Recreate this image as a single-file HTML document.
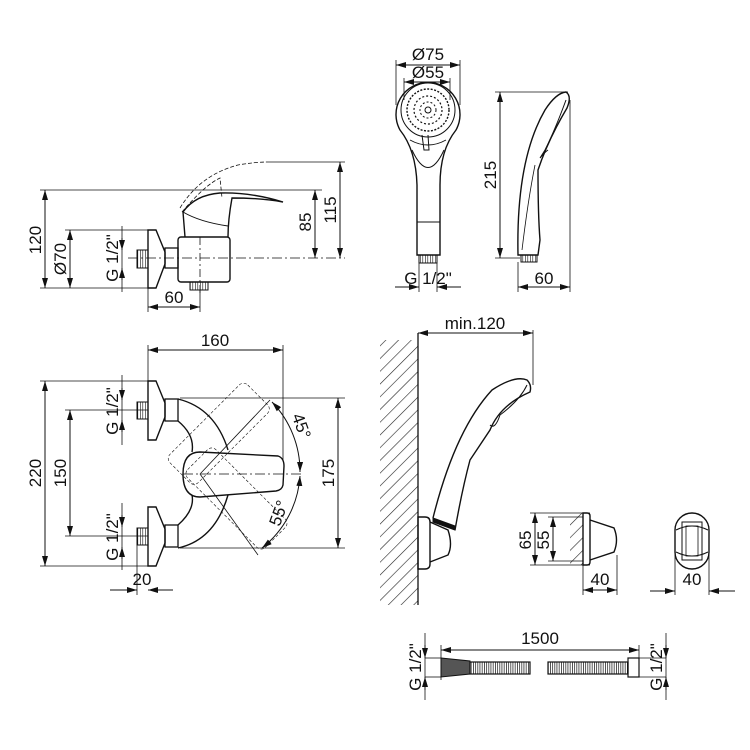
<!DOCTYPE html>
<html><head><style>html,body{margin:0;padding:0;background:#fff}svg{display:block}text{font-family:"Liberation Sans",sans-serif;font-size:17px;fill:#111}</style></head>
<body>
<svg width="750" height="750" viewBox="0 0 750 750" xmlns="http://www.w3.org/2000/svg">
<defs>
<marker id="a" viewBox="0 0 10 6" refX="10" refY="3" markerWidth="10" markerHeight="6" orient="auto-start-reverse"><path d="M0,0L10,3L0,6z" fill="#111"/></marker>
<pattern id="h" width="9" height="9" patternUnits="userSpaceOnUse" patternTransform="rotate(45)"><line x1="0" y1="0" x2="0" y2="9" stroke="#222" stroke-width="1.2"/></pattern>
<pattern id="thr" width="2.5" height="4" patternUnits="userSpaceOnUse"><line x1="0" y1="0" x2="0" y2="4" stroke="#111" stroke-width="1.2"/></pattern>
<pattern id="hose" width="2.2" height="4" patternUnits="userSpaceOnUse"><line x1="0" y1="0" x2="0" y2="4" stroke="#111" stroke-width="1.4"/></pattern>
</defs>
<g stroke="#111" fill="none" stroke-width="1">
<!-- ===== top-left side view ===== -->
<line x1="40" y1="190" x2="322" y2="190" stroke-width="0.8"/>
<line x1="40" y1="288" x2="150" y2="288" stroke-width="0.8"/>
<line x1="268" y1="162" x2="345" y2="162" stroke-width="0.8"/>
<line x1="65" y1="230" x2="150" y2="230" stroke-width="0.8"/>
<line x1="45" y1="190" x2="45" y2="288" marker-start="url(#a)" marker-end="url(#a)"/>
<line x1="70" y1="230" x2="70" y2="288" marker-start="url(#a)" marker-end="url(#a)"/>
<line x1="122" y1="226" x2="122" y2="292" stroke-width="0.8"/>
<line x1="122" y1="238" x2="122" y2="250" marker-end="url(#a)"/>
<line x1="122" y1="280" x2="122" y2="268" marker-end="url(#a)"/>
<line x1="315" y1="190" x2="315" y2="258" marker-start="url(#a)" marker-end="url(#a)"/>
<line x1="340" y1="162" x2="340" y2="258" marker-start="url(#a)" marker-end="url(#a)"/>
<line x1="148" y1="307" x2="200" y2="307" marker-start="url(#a)" marker-end="url(#a)"/>
<line x1="148" y1="288" x2="148" y2="312" stroke-width="0.8"/>
<line x1="200" y1="290" x2="200" y2="312" stroke-width="0.8"/>
<path d="M148,230h8l9,22v12l-9,24h-8z" stroke-width="1.4"/>
<rect x="137" y="250" width="11" height="18" fill="url(#thr)"/>
<rect x="165" y="248" width="13" height="20" stroke-width="1.3"/>
<rect x="178" y="237" width="52" height="45" rx="3" stroke-width="1.4"/>
<rect x="190" y="282" width="18" height="8" fill="url(#thr)"/>
<line x1="128" y1="258" x2="345" y2="258" stroke-dasharray="10,3,2,3" stroke-width="0.8"/>
<line x1="200" y1="237" x2="200" y2="295" stroke-dasharray="8,3,2,3" stroke-width="0.8"/>
<path d="M185,237 L183,212 Q195,195 220,193 Q250,192 283,202 Q262,198 232,198 Q228,220 228,237" stroke-width="1.4"/>
<path d="M183,212 Q200,222 228,226" stroke-width="1"/>
<path d="M180,208 Q200,175 238,165 Q255,162 268,162" stroke-dasharray="4,2" stroke-width="0.8"/>
<path d="M182,212 Q205,185 220,178 L222,198" stroke-dasharray="4,2" stroke-width="0.8"/>
<!-- ===== bottom-left top view ===== -->
<line x1="148" y1="345" x2="148" y2="382" stroke-width="0.8"/>
<line x1="283" y1="345" x2="283" y2="460" stroke-width="0.8"/>
<line x1="148" y1="350" x2="283" y2="350" marker-start="url(#a)" marker-end="url(#a)"/>
<line x1="40" y1="381" x2="155" y2="381" stroke-width="0.8"/>
<line x1="40" y1="566" x2="155" y2="566" stroke-width="0.8"/>
<line x1="45" y1="381" x2="45" y2="566" marker-start="url(#a)" marker-end="url(#a)"/>
<line x1="65" y1="410" x2="148" y2="410" stroke-width="0.8"/>
<line x1="65" y1="536" x2="148" y2="536" stroke-width="0.8"/>
<line x1="70" y1="410" x2="70" y2="536" marker-start="url(#a)" marker-end="url(#a)"/>
<line x1="122" y1="375" x2="122" y2="445" stroke-width="0.8"/>
<line x1="122" y1="388" x2="122" y2="400" marker-end="url(#a)"/>
<line x1="122" y1="432" x2="122" y2="420" marker-end="url(#a)"/>
<line x1="122" y1="503" x2="122" y2="570" stroke-width="0.8"/>
<line x1="122" y1="515" x2="122" y2="527" marker-end="url(#a)"/>
<line x1="122" y1="559" x2="122" y2="547" marker-end="url(#a)"/>
<path d="M148,381h8l9,22v14l-9,23h-8z" stroke-width="1.4"/>
<path d="M148,507h8l9,22v14l-9,23h-8z" stroke-width="1.4"/>
<rect x="137" y="402" width="11" height="17" fill="url(#thr)"/>
<rect x="137" y="528" width="11" height="17" fill="url(#thr)"/>
<rect x="165" y="399" width="13" height="22" stroke-width="1.3"/>
<rect x="165" y="525" width="13" height="22" stroke-width="1.3"/>
<path d="M178,399 Q215,408 228,450 M178,548 Q215,540 228,495 M178,421 Q195,435 192,452 M178,525 Q195,510 192,495" stroke-width="1.4"/>
<path d="M200,452 L278,456 Q284,458 284,466 L283,485 Q282,490 276,491 L200,497 Q183,497 183,474 Q183,452 200,452z" stroke-width="1.4"/>
<line x1="183" y1="474" x2="302" y2="474" stroke-dasharray="10,3,2,3" stroke-width="0.8"/>
<line x1="180" y1="398" x2="345" y2="398" stroke-width="0.8"/>
<line x1="180" y1="548" x2="345" y2="548" stroke-width="0.8"/>
<line x1="338" y1="398" x2="338" y2="548" marker-start="url(#a)" marker-end="url(#a)"/>
<g stroke-dasharray="3,2" stroke-width="0.6">
<rect x="190" y="400" width="40" height="110" rx="6" transform="rotate(45 240 455)"/>
<rect x="215" y="440" width="40" height="110" rx="6" transform="rotate(-45 240 495)"/>
</g>
<line x1="200" y1="474" x2="270" y2="400" stroke-width="0.8"/>
<line x1="200" y1="474" x2="258" y2="555" stroke-width="0.8"/>
<path d="M272,402 A100,100 0 0 1 300,472" marker-start="url(#a)" marker-end="url(#a)"/>
<path d="M300,476 A100,100 0 0 1 262,548" marker-start="url(#a)" marker-end="url(#a)"/>
<line x1="110" y1="590" x2="137" y2="590" marker-end="url(#a)"/>
<line x1="173" y1="590" x2="148" y2="590" marker-end="url(#a)"/>
<line x1="137" y1="545" x2="137" y2="595" stroke-width="0.8"/>
<!-- ===== handshower front ===== -->
<line x1="396" y1="65" x2="460" y2="65" marker-start="url(#a)" marker-end="url(#a)"/>
<line x1="404" y1="82" x2="450" y2="82" marker-start="url(#a)" marker-end="url(#a)"/>
<line x1="396" y1="60" x2="396" y2="105" stroke-width="0.8"/>
<line x1="460" y1="60" x2="460" y2="105" stroke-width="0.8"/>
<line x1="404" y1="78" x2="404" y2="100" stroke-width="0.8"/>
<line x1="450" y1="78" x2="450" y2="100" stroke-width="0.8"/>
<path d="M400,130 A32,32 0 1 1 456,130 Q440,150 440,185 L440,255 L417,255 L417,185 Q416,150 400,130z" stroke-width="1.4"/>
<circle cx="428" cy="110" r="27"/>
<circle cx="428" cy="110" r="21" stroke-dasharray="2,1.5" stroke-width="1.4"/>
<circle cx="428" cy="110" r="14" stroke-dasharray="2,2" stroke-width="1.2"/>
<circle cx="428" cy="110" r="8" stroke-dasharray="2,2" stroke-width="1"/>
<circle cx="428" cy="110" r="3"/>
<path d="M410,140 Q428,150 446,140 M422,135 L424,150 L429,150 L428,135" stroke-width="1"/>
<path d="M412,150 Q428,185 444,150" stroke-width="1"/>
<line x1="417" y1="222" x2="440" y2="222"/>
<rect x="419" y="255" width="18" height="8" fill="url(#thr)"/>
<line x1="419" y1="262" x2="419" y2="292" stroke-width="0.8"/>
<line x1="437" y1="262" x2="437" y2="292" stroke-width="0.8"/>
<line x1="395" y1="287" x2="419" y2="287" marker-end="url(#a)"/>
<line x1="461" y1="287" x2="437" y2="287" marker-end="url(#a)"/>
<!-- side -->
<path d="M518,255 Q516,160 545,110 Q556,93 566,92 Q572,96 567,108 Q548,140 538,170 Q538,215 540,240 L538,255z" stroke-width="1.4"/>
<path d="M566,100 Q555,130 545,150 L540,158 Q545,152 548,150" stroke-width="1"/>
<path d="M522,250 Q528,200 535,165" stroke-width="0.8"/>
<rect x="521" y="255" width="16" height="7" fill="url(#thr)"/>
<line x1="495" y1="92" x2="568" y2="92" stroke-width="0.8"/>
<line x1="495" y1="258" x2="520" y2="258" stroke-width="0.8"/>
<line x1="500" y1="92" x2="500" y2="258" marker-start="url(#a)" marker-end="url(#a)"/>
<line x1="518" y1="262" x2="518" y2="292" stroke-width="0.8"/>
<line x1="570" y1="100" x2="570" y2="292" stroke-width="0.8"/>
<line x1="518" y1="287" x2="570" y2="287" marker-start="url(#a)" marker-end="url(#a)"/>
<!-- ===== wall mount ===== -->
<rect x="380" y="340" width="38" height="265" fill="url(#h)" stroke="none"/>
<line x1="418" y1="333" x2="418" y2="605" stroke-width="1.3"/>
<line x1="533" y1="330" x2="533" y2="385" stroke-width="0.8"/>
<line x1="418" y1="333" x2="533" y2="333" marker-start="url(#a)" marker-end="url(#a)"/>
<path d="M418,517 h7 q5,0 5,5 v42 q0,5 -5,5 h-7z" stroke-width="1.4"/>
<path d="M430,522 L448,530 Q453,545 448,555 L430,562" stroke-width="1.4"/>
<path d="M433,518 Q455,430 492,390 Q515,375 527,380 Q532,385 530,392 Q500,405 490,430 L470,460 Q462,490 455,530" stroke-width="1.4"/>
<path d="M527,385 Q520,400 500,415 Q495,430 490,425" stroke-width="1"/>
<path d="M433,518 L455,526 L455,530 L433,522z" fill="#111"/>
<!-- small bracket -->
<rect x="570" y="513" width="13" height="52" fill="url(#h)" stroke="none"/>
<line x1="530" y1="513" x2="590" y2="513" stroke-width="0.8"/>
<line x1="530" y1="565" x2="590" y2="565" stroke-width="0.8"/>
<line x1="548" y1="517" x2="583" y2="517" stroke-width="0.8"/>
<line x1="548" y1="561" x2="583" y2="561" stroke-width="0.8"/>
<line x1="535" y1="513" x2="535" y2="565" marker-start="url(#a)" marker-end="url(#a)"/>
<line x1="553" y1="517" x2="553" y2="561" marker-start="url(#a)" marker-end="url(#a)"/>
<path d="M583,513 h4 q3,0 3,3 v46 q0,3 -3,3 h-4z" stroke-width="1.4"/>
<path d="M590,520 L614,528 Q619,540 614,552 L590,560" stroke-width="1.4"/>
<line x1="583" y1="565" x2="583" y2="595" stroke-width="0.8"/>
<line x1="617" y1="555" x2="617" y2="595" stroke-width="0.8"/>
<line x1="583" y1="590" x2="617" y2="590" marker-start="url(#a)" marker-end="url(#a)"/>
<rect x="675" y="513" width="34" height="56" rx="17" stroke-width="1.4"/>
<path d="M676,530 Q692,522 708,530 M676,552 Q692,560 708,552" stroke-width="1"/>
<rect x="682" y="522" width="20" height="38" stroke-width="1"/>
<rect x="686" y="526" width="12" height="30" stroke-width="0.8"/>
<line x1="675" y1="545" x2="675" y2="595" stroke-width="0.8"/>
<line x1="709" y1="545" x2="709" y2="595" stroke-width="0.8"/>
<line x1="650" y1="591" x2="675" y2="591" marker-end="url(#a)"/>
<line x1="735" y1="591" x2="709" y2="591" marker-end="url(#a)"/>
<!-- ===== hose ===== -->
<line x1="441" y1="645" x2="441" y2="680" stroke-width="0.8"/>
<line x1="639" y1="645" x2="639" y2="662" stroke-width="0.8"/>
<line x1="441" y1="650" x2="639" y2="650" marker-start="url(#a)" marker-end="url(#a)"/>
<line x1="425" y1="633" x2="425" y2="700" stroke-width="0.8"/>
<line x1="425" y1="645" x2="425" y2="658" marker-end="url(#a)"/>
<line x1="425" y1="690" x2="425" y2="677" marker-end="url(#a)"/>
<line x1="666" y1="633" x2="666" y2="700" stroke-width="0.8"/>
<line x1="666" y1="645" x2="666" y2="658" marker-end="url(#a)"/>
<line x1="666" y1="690" x2="666" y2="677" marker-end="url(#a)"/>
<line x1="425" y1="658" x2="441" y2="658" stroke-width="0.8"/>
<line x1="425" y1="677" x2="441" y2="677" stroke-width="0.8"/>
<line x1="639" y1="658" x2="666" y2="658" stroke-width="0.8"/>
<line x1="639" y1="677" x2="666" y2="677" stroke-width="0.8"/>
<path d="M441,658 L470,661 L470,674 L441,677z" fill="#555" stroke-width="1"/>
<rect x="470" y="662" width="60" height="12" fill="url(#hose)" stroke-width="1.2"/>
<rect x="548" y="662" width="80" height="12" fill="url(#hose)" stroke-width="1.2"/>
<rect x="628" y="658" width="11" height="19" stroke-width="1.2"/>
</g>
<!-- text -->
<text x="0" y="0" transform="translate(41,240) rotate(-90)" text-anchor="middle">120</text>
<text x="0" y="0" transform="translate(66,259) rotate(-90)" text-anchor="middle">Ø70</text>
<text x="0" y="0" transform="translate(118,258) rotate(-90)" text-anchor="middle">G 1/2"</text>
<text x="0" y="0" transform="translate(311,222) rotate(-90)" text-anchor="middle">85</text>
<text x="0" y="0" transform="translate(336,210) rotate(-90)" text-anchor="middle">115</text>
<text x="174" y="303" text-anchor="middle">60</text>
<text x="215" y="346" text-anchor="middle">160</text>
<text x="0" y="0" transform="translate(41,473) rotate(-90)" text-anchor="middle">220</text>
<text x="0" y="0" transform="translate(66,473) rotate(-90)" text-anchor="middle">150</text>
<text x="0" y="0" transform="translate(118,411) rotate(-90)" text-anchor="middle">G 1/2"</text>
<text x="0" y="0" transform="translate(118,537) rotate(-90)" text-anchor="middle">G 1/2"</text>
<text x="0" y="0" transform="translate(334,473) rotate(-90)" text-anchor="middle">175</text>
<text x="0" y="0" transform="translate(296,428) rotate(70)" text-anchor="middle">45°</text>
<text x="0" y="0" transform="translate(284,515) rotate(-70)" text-anchor="middle">55°</text>
<text x="142" y="585" text-anchor="middle">20</text>
<text x="428" y="60" text-anchor="middle">Ø75</text>
<text x="428" y="78" text-anchor="middle">Ø55</text>
<text x="428" y="284" text-anchor="middle">G 1/2"</text>
<text x="0" y="0" transform="translate(496,175) rotate(-90)" text-anchor="middle">215</text>
<text x="544" y="284" text-anchor="middle">60</text>
<text x="475" y="329" text-anchor="middle">min.120</text>
<text x="0" y="0" transform="translate(531,540) rotate(-90)" text-anchor="middle">65</text>
<text x="0" y="0" transform="translate(549,540) rotate(-90)" text-anchor="middle">55</text>
<text x="600" y="585" text-anchor="middle">40</text>
<text x="692" y="585" text-anchor="middle">40</text>
<text x="540" y="644" text-anchor="middle">1500</text>
<text x="0" y="0" transform="translate(421,667) rotate(-90)" text-anchor="middle">G 1/2"</text>
<text x="0" y="0" transform="translate(662,667) rotate(-90)" text-anchor="middle">G 1/2"</text>
</svg>
</body></html>
